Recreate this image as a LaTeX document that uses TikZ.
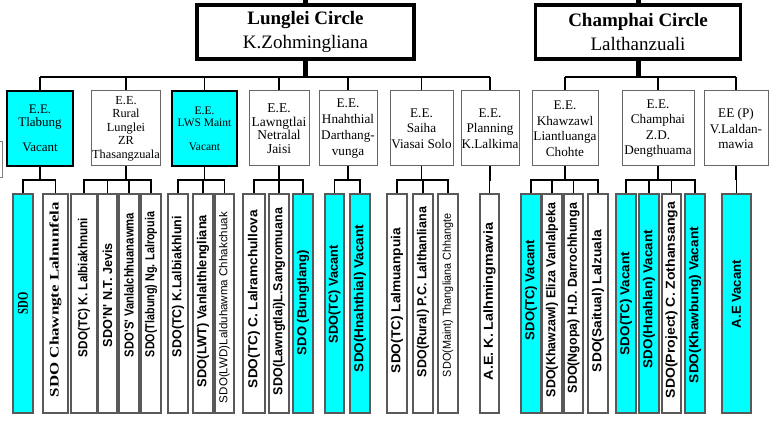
\documentclass[tikz,border=0pt]{standalone}
\usepackage{fontspec}
\setmainfont{Liberation Serif}
\newfontfamily\sdofont{Liberation Sans}
\definecolor{sdocyan}{RGB}{0,255,255}
\newcommand{\sdobold}{\sdofont\bfseries\fontsize{13}{13}\selectfont}
\newcommand{\sdoplain}{\sdofont\fontsize{11.5}{12}\selectfont}
\newcommand{\sdoserif}{\bfseries\fontsize{13}{13}\selectfont}
\newcommand{\sdoserifbig}{\bfseries\fontsize{15}{15}\selectfont}
\newlength{\sdolen}
% name/left/right/fill/parent/label centre/label length/font/label
\newcommand{\sdolist}{
    s1/13/33/sdocyan/tlabung/303/22/\sdoserifbig/SDO,
    s2/43/68/white/tlabung/299.5/195/\sdoserif/SDO Chawngte Lalnunfela,
    s3/71/97/white/rural/287.5/139/\sdobold/SDO(TC) K. Lalbiakhnuni,
    s4/98/117/white/rural/295/104/\sdobold/SDO'N' N.T. Jevis,
    s5/119/139/white/rural/285/144/\sdobold/SDO'S' Vanlalchhuanawma,
    s6/141/161/white/rural/284.5/145/\sdobold/SDO(Tlabung) Ng. Lalropuia,
    s7/168/188/white/lws/286.5/141/\sdobold/SDO(TC) K.Lalbiakhluni,
    s8/193/213/white/lws/301/172/\sdobold/SDO(LWT) Vanlalthlengliana,
    s9/215/234/white/lws/307.5/191/\sdoplain/SDO(LWD)Lalduhawma Chhakchuak,
    s10/243/265/white/lawngtlai/299/178/\sdobold/SDO(TC) C. Lalramchullova,
    s11/269/289/white/lawngtlai/301.5/187/\sdobold/SDO(Lawngtlai)L.Sangromuana,
    s12/293/313/sdocyan/lawngtlai/302.5/105/\sdobold/SDO (Bungtlang),
    s13/325/344/sdocyan/hnahthial/294/98/\sdobold/SDO(TC) Vacant,
    s14/350/370/sdocyan/hnahthial/298.5/147/\sdobold/SDO(Hnahthial) Vacant,
    s15/387/407/white/saiha/300.5/145/\sdobold/SDO(TC) Lalmuanpuia,
    s16/413/433/white/saiha/292/170/\sdobold/SDO(Rural) P.C. Lalthanliana,
    s17/438/458/white/saiha/295/164/\sdoplain/SDO(Maint) Thangliana Chhangte,
    s18/480/499/white/planning/301.5/157/\sdobold/A.E. K. Lalhmingmawia,
    s19/521/541/sdocyan/khawzawl/290/100/\sdobold/SDO(TC) Vacant,
    s20/542/562/white/khawzawl/300/194/\sdobold/SDO(Khawzawl) Eliza Vanlalpeka,
    s21/564/583/white/khawzawl/298/190/\sdobold/SDO(Ngopa) H.D. Darrochhunga,
    s22/588/608/white/khawzawl/301/142/\sdobold/SDO(Saitual) Lalzuala,
    s23/616/636/sdocyan/champhai/303.5/103/\sdobold/SDO(TC) Vacant,
    s24/639/659/sdocyan/champhai/299/138/\sdobold/SDO(Hnahlan) Vacant,
    s25/662/681/white/champhai/300/196/\sdobold/SDO(Project) C. Zothansanga,
    s26/685/705/sdocyan/champhai/305/156/\sdobold/SDO(Khawbung) Vacant,
    s27/722/751/sdocyan/eep/294/68/\sdobold/A.E Vacant}
\tikzset{
    circlebox/.style = {draw, line width=3.5pt, 
        minimum width=217pt, 
        minimum height=54pt, align=center,
        font=\fontsize{19}{24}\selectfont},
    eebox/.style = {draw=black!60, line width=1pt, fill=white,
        minimum height=75pt, inner xsep=0.5pt, align=center,
        font=\fontsize{13.2}{15.5}\selectfont},
    vacantbox/.style = {fill=sdocyan, draw=black, line width=1.5pt},
    sdobox/.style = {draw=black!65, line width=1.2pt, 
        minimum height=219pt, inner sep=0pt},
    sdolabel/.style = {transform shape, inner sep=0pt},
    bus/.style = {line width=2.5pt},
    link/.style = {line width=1.6pt}
}

\begin{document}
% natural length of every label, measured before the picture
\foreach \n/\xl/\xr/\col/\p/\yc/\len/\fnt/\txt in \sdolist {%
    \settowidth{\sdolen}{\fnt \txt}%
    \expandafter\xdef\csname sdow-\n\endcsname{\the\sdolen}%
}%
\begin{tikzpicture}[x=1pt,y=-1pt]
    \useasboundingbox (0,0) rectangle (776,422);

    % circles
    \node[circlebox] (lunglei) at (305.5,32) {\textbf{Lunglei Circle}\\K.Zohmingliana};
    \node[circlebox, minimum width=205pt] (champhaicircle) at (638,32) {\textbf{Champhai Circle}\\Lalthanzuali};
    \draw[line width=5pt] (lunglei.north) -- ++(0,-10);
    \draw[line width=5pt] (champhaicircle.north) -- ++(0,-10);

    % executive engineers
    \node[eebox, vacantbox, minimum width=66pt, font=\fontsize{13}{13}\selectfont] (tlabung) at (40,128.5) {E.E.\\Tlabung\\[12pt]Vacant};
    \node[eebox, minimum width=66pt, font=\fontsize{12.3}{13.5}\selectfont] (rural) at (126,128.5) {E.E.\\Rural\\Lunglei\\ZR\\Thasangzuala};
    \node[eebox, vacantbox, minimum width=65pt, font=\fontsize{11.5}{12.5}\selectfont] (lws) at (204.5,128.5) {E.E.\\LWS Maint\\[11pt]Vacant};
    \node[eebox, minimum width=60pt, font=\fontsize{13.5}{13.5}\selectfont] (lawngtlai) at (279,128.5) {E.E.\\Lawngtlai\\Netralal\\Jaisi};
    \node[eebox, minimum width=58pt, font=\fontsize{13.2}{16}\selectfont] (hnahthial) at (348,128.5) {E.E.\\Hnahthial\\Darthang-\\vunga};
    \node[eebox, minimum width=63pt] (saiha) at (421.5,128.5) {E.E.\\Saiha\\Viasai Solo};
    \node[eebox, minimum width=58pt] (planning) at (490,128.5) {E.E.\\Planning\\K.Lalkima};
    \node[eebox, minimum width=66pt] (khawzawl) at (565,128.5) {E.E.\\Khawzawl\\Liantluanga\\Chohte};
    \node[eebox, minimum width=72pt] (champhai) at (658,128.5) {E.E.\\Champhai\\Z.D.\\Dengthuama};
    \node[eebox, minimum width=64pt] (eep) at (736,128.5) {EE (P)\\V.Laldan-\\mawia};

    % buses
    \coordinate (topline) at (0,77);
    \coordinate (subline) at (0,180);
    \coordinate (lbus) at (lunglei.south |- topline);
    \coordinate (cbus) at (champhaicircle.south |- topline);
    \draw[line width=5pt] (lunglei.south) -- (lbus);
    \draw[line width=5pt] (champhaicircle.south) -- (cbus);
    \draw[bus] (tlabung.north |- topline) -- (planning.north |- topline);
    \draw[bus] (khawzawl.north |- topline) -- (eep.north |- topline);
    \foreach \e in {tlabung,rural,lws,lawngtlai,hnahthial,saiha,planning,khawzawl,champhai,eep} {
        \draw[link] (\e.north) -- (\e.north |- topline);
        \coordinate (\e-bus) at (\e.south |- subline);
        \draw[link] (\e.south) -- (\e-bus);
    }

    % sub divisional officers, labels squeezed to the length they have in the chart
    \foreach \n/\xl/\xr/\col/\p/\yc/\len/\fnt/\txt in \sdolist {
        \node[sdobox, fill=\col, minimum width={(\xr-\xl)*1pt}] (\n) at ({(\xl+\xr)/2},303.5) {};
        \pgfmathsetmacro{\sdoscale}{\len/max(\csname sdow-\n\endcsname,1)}
        \begin{scope}[shift={({(\xl+\xr)/2},\yc)}, rotate=90, xscale=\sdoscale]
            \node[sdolabel] (\n-text) at (0,0) {\fnt \txt};
        \end{scope}
        \draw[link] (\n.north) |- (\p-bus);
    }

    % edge of a box cut off at the left
    \draw[black!50, line width=1pt] (-10,142) rectangle (2,178);
\end{tikzpicture}
\end{document}
